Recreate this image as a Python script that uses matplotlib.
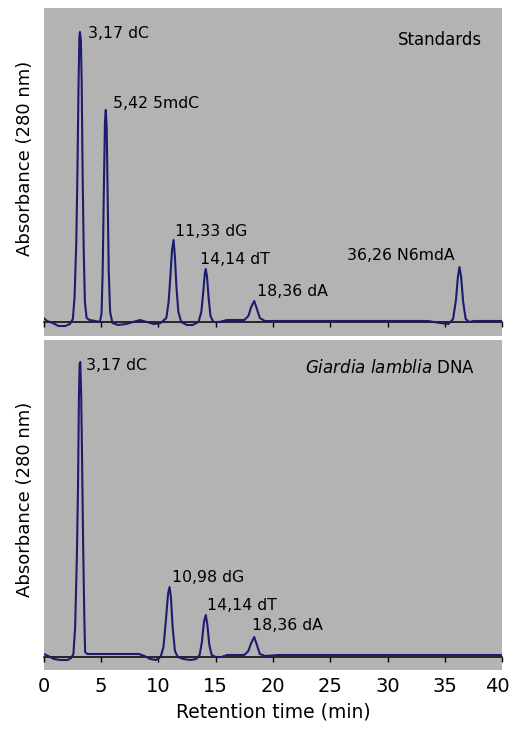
import numpy as np
import matplotlib
matplotlib.use("Agg")
import matplotlib.pyplot as plt
from matplotlib.transforms import ScaledTranslation

# retention time (min) and absorbance (arbitrary units)
std_time = [0.0, 0.3, 0.8, 1.3, 1.9, 2.3, 2.55, 2.7, 2.85, 2.95, 3.05, 3.12, 3.17, 3.25,
            3.32, 3.4, 3.5, 3.6, 3.75, 4.0, 4.5, 4.9, 5.05, 5.15, 5.25, 5.35, 5.42, 5.5,
            5.58, 5.68, 5.8, 6.0, 6.5, 7.2, 7.8, 8.4, 9.0, 9.6, 10.2, 10.7, 10.9, 11.05,
            11.2, 11.33, 11.45, 11.58, 11.75, 12.0, 12.5, 13.0, 13.5, 13.75, 13.92, 14.05,
            14.14, 14.25, 14.38, 14.55, 14.8, 15.3, 16.0, 16.8, 17.5, 17.85, 18.1, 18.36,
            18.6, 18.85, 19.3, 20.5, 25.0, 30.0, 33.5, 34.6, 35.3, 35.7, 35.95, 36.12,
            36.26, 36.4, 36.58, 36.8, 37.1, 37.5, 38.5, 40.0]
std_abs = [4, 1, -1, -4, -4, -2, 3, 25, 80, 150, 240, 285, 290, 282,
           240, 150, 70, 20, 4, 2, 1, 0, 8, 50, 130, 200, 212, 195,
           130, 50, 10, -1, -3, -2, 0, 2, 0, -2, -1, 4, 20, 45,
           72, 82, 65, 35, 10, 0, -3, -3, 0, 10, 30, 48,
           53, 45, 25, 6, 0, 0, 2, 2, 2, 6, 15, 21,
           13, 4, 1, 1, 1, 1, 1, -1, -2, 3, 22, 45,
           55, 45, 20, 3, 0, 1, 1, 1]

gl_time = [0.0, 0.4, 0.9, 1.5, 2.1, 2.4, 2.6, 2.75, 2.9, 3.0, 3.08, 3.14, 3.2, 3.28,
           3.35, 3.45, 3.55, 3.62, 3.8, 5.0, 6.5, 8.3, 8.8, 9.3, 9.8, 10.2, 10.45, 10.65,
           10.85, 10.98, 11.1, 11.25, 11.45, 11.7, 12.2, 12.8, 13.3, 13.6, 13.8, 13.98,
           14.14, 14.28, 14.45, 14.65, 15.0, 15.5, 16.0, 17.0, 17.5, 17.85, 18.1, 18.36,
           18.6, 18.85, 19.3, 20.5, 25.0, 30.0, 35.0, 40.0]
gl_abs = [3, 1, -2, -3, -3, -1, 3, 30, 100, 170, 260, 293, 295, 260,
          200, 110, 40, 5, 3, 3, 3, 3, 1, -2, -3, 0, 10, 35,
          63, 70, 60, 30, 6, 0, -2, -3, -2, 2, 15, 35,
          42, 32, 12, 2, 0, 0, 2, 2, 2, 6, 14, 20,
          12, 3, 1, 2, 2, 2, 2, 2]

std_labels = ["3,17 dC", "5,42 5mdC", "11,33 dG", "14,14 dT", "18,36 dA", "36,26 N6mdA"]
gl_labels = ["3,17 dC", "10,98 dG", "14,14 dT", "18,36 dA"]
xticks = [0, 5, 10, 15, 20, 25, 30, 35, 40]

bg = "#b3b3b3"
trace = "#1c1c6e"

fig = plt.figure(figsize=(5.1, 7.34), dpi=100)
ax1 = fig.add_axes([43.6 / 510, 1 - 336 / 734, 458.8 / 510, 328 / 734])
ax2 = fig.add_axes([43.6 / 510, 1 - 670 / 734, 458.8 / 510, 330 / 734])

for ax, t, a in [(ax1, std_time, std_abs), (ax2, gl_time, gl_abs)]:
    ax.set_facecolor(bg)
    ax.plot(t, a, color=trace, lw=1.5, zorder=3)
    ax.set_xlim(0, 40)
    for s in ["top", "left", "right"]:
        ax.spines[s].set_visible(False)
    # baseline acts as the x axis
    ax.spines["bottom"].set_position(("data", 0))
    ax.spines["bottom"].set_color("black")
    ax.spines["bottom"].set_linewidth(1.1)
    ax.set_yticks([])
    ax.set_xticks(xticks)
    ax.tick_params(axis="x", direction="out", length=3.6, width=1, color="black",
                   labelsize=14, pad=11)

ax1.set_ylim(-14, 314)
ax2.set_ylim(-13, 317)
ax1.tick_params(axis="x", labelbottom=False)

# last tick label sits at the figure edge, nudge it in a little
lbl = ax2.get_xticklabels()[-1]
lbl.set_transform(lbl.get_transform() + ScaledTranslation(-5 / 100, 0, fig.dpi_scale_trans))

# peak labels
std_pos = [(3.87, 289, "left"), (6.05, 219, "left"), (11.46, 90, "left"),
           (13.64, 62, "left"), (18.6, 30, "left"), (35.87, 67, "right")]
for lab, (x, y, ha) in zip(std_labels, std_pos):
    ax1.text(x, y, lab, fontsize=11.3, ha=ha, va="center")

gl_pos = [(3.70, 292), (11.19, 80), (14.25, 51), (18.17, 32)]
for lab, (x, y) in zip(gl_labels, gl_pos):
    ax2.text(x, y, lab, fontsize=11.3, ha="left", va="center")

ax1.text(38.22, 282, "Standards", fontsize=12, ha="right", va="center")
ax2.text(37.61, 289, r"$\it{Giardia\ lamblia}$ DNA", fontsize=12, ha="right", va="center")

fig.text(25 / 510, 1 - 158 / 734, "Absorbance (280 nm)", rotation=90,
         fontsize=13, ha="center", va="center")
fig.text(25 / 510, 1 - 499 / 734, "Absorbance (280 nm)", rotation=90,
         fontsize=13, ha="center", va="center")
fig.text(273 / 510, 1 - 712 / 734, "Retention time (min)", fontsize=13.5,
         ha="center", va="center")

fig.savefig("out.png", dpi=100)
